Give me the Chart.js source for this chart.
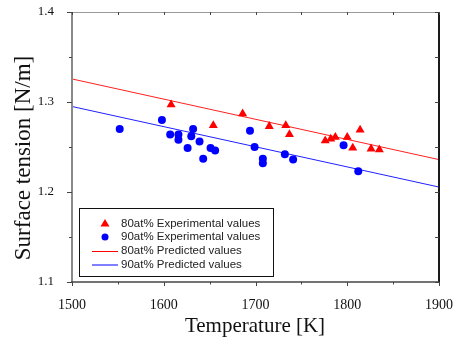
<!DOCTYPE html>
<html>
<head>
<meta charset="utf-8">
<script src="https://cdn.jsdelivr.net/npm/chart.js@4"></script>
<style>
html,body{margin:0;padding:0;background:#fff;}
#wrap{width:455px;height:339px;position:relative;}
</style>
</head>
<body>
<div id="wrap"><canvas id="c" width="455" height="339"></canvas></div>
<script>
// ---- data ----
const temps80 = [1608, 1654, 1686, 1715, 1733, 1737, 1776, 1782, 1787, 1800, 1806, 1814, 1826, 1835];
const tension80 = [1.297, 1.274, 1.287, 1.273, 1.274, 1.264, 1.257, 1.259, 1.261, 1.261, 1.249, 1.269, 1.248, 1.247];
const temps90 = [1552, 1598, 1607, 1616, 1616, 1632, 1630, 1626, 1639, 1643, 1651, 1656, 1694, 1699, 1708, 1708, 1732, 1741, 1796, 1812];
const tension90 = [1.270, 1.280, 1.264, 1.264, 1.258, 1.270, 1.262, 1.249, 1.256, 1.237, 1.249, 1.246, 1.268, 1.250, 1.237, 1.232, 1.242, 1.236, 1.252, 1.223];
const predTemps = [1500, 1900];
const pred80 = [1.3256, 1.236];
const pred90 = [1.295, 1.2055];
const xTicks = [1500, 1600, 1700, 1800, 1900];
const xMinor = [1550, 1650, 1750, 1850];
const yTicks = [1.1, 1.2, 1.3, 1.4];
const yMinor = [1.15, 1.25, 1.35];
const legendLabels = ['80at% Experimental values', '90at% Experimental values', '80at% Predicted values', '90at% Predicted values'];
const xTitle = 'Temperature [K]';
const yTitle = 'Surface tension [N/m]';

const pts = (xs, ys) => xs.map((x, i) => ({x: x, y: ys[i]}));

const framePlugin = {
  id: 'frame',
  afterDraw(chart) {
    const ctx = chart.ctx;
    const xs = chart.scales.x, ys = chart.scales.y;
    const L = xs.left, R = xs.right, T = ys.top, B = ys.bottom;
    ctx.save();
    // borders
    ctx.lineCap = 'butt';
    ctx.strokeStyle = '#9a9a9a'; ctx.lineWidth = 1;
    ctx.beginPath(); ctx.moveTo(L, T + 0.5); ctx.lineTo(R, T + 0.5); ctx.stroke();
    ctx.strokeStyle = '#1a1a1a'; ctx.lineWidth = 2;
    ctx.beginPath(); ctx.moveTo(R, T); ctx.lineTo(R, B); ctx.stroke();
    ctx.strokeStyle = '#8a8a8a'; ctx.lineWidth = 2;
    ctx.beginPath(); ctx.moveTo(L, T); ctx.lineTo(L, B + 1); ctx.stroke();
    ctx.strokeStyle = '#444'; ctx.lineWidth = 1.5;
    ctx.beginPath(); ctx.moveTo(L - 1, B); ctx.lineTo(R, B); ctx.stroke();
    // ticks
    ctx.lineWidth = 1;
    ctx.strokeStyle = '#444';
    const tick = (x1, y1, x2, y2) => { ctx.beginPath(); ctx.moveTo(x1, y1); ctx.lineTo(x2, y2); ctx.stroke(); };
    xTicks.forEach(v => { const p = Math.round(xs.getPixelForValue(v)) + 0.5; tick(p, B, p, B + 4); tick(p, T, p, T + 3); });
    xMinor.forEach(v => { const p = Math.round(xs.getPixelForValue(v)) + 0.5; tick(p, B, p, B + 2.5); tick(p, T, p, T + 3); });
    yTicks.forEach(v => { const p = Math.round(ys.getPixelForValue(v)) + 0.5; tick(L - 5, p, L, p); tick(R - 4, p, R, p); });
    yMinor.forEach(v => { const p = Math.round(ys.getPixelForValue(v)) + 0.5; tick(L - 3, p, L, p); tick(R - 4, p, R, p); });
    // axis titles
    ctx.fillStyle = '#111';
    ctx.font = '21px "Liberation Serif", "Times New Roman", serif';
    ctx.textAlign = 'center'; ctx.textBaseline = 'middle';
    ctx.fillText(xTitle, 255, 326);
    ctx.save();
    ctx.translate(24, 158);
    ctx.rotate(-Math.PI / 2);
    ctx.font = '23px "Liberation Serif", "Times New Roman", serif';
    ctx.fillText(yTitle, 0, 0);
    ctx.restore();
    // legend
    const bx = 79.5, by = 208.5, bw = 194, bh = 68;
    ctx.fillStyle = '#fff';
    ctx.fillRect(bx, by, bw, bh);
    ctx.strokeStyle = '#111'; ctx.lineWidth = 1;
    ctx.strokeRect(bx, by, bw, bh);
    const rows = [223.5, 237, 251, 264.5];
    ctx.font = '11.5px "Liberation Sans", Arial, sans-serif';
    ctx.textAlign = 'left'; ctx.textBaseline = 'middle';
    ctx.fillStyle = '#222';
    legendLabels.forEach((t, i) => ctx.fillText(t, 121, rows[i]));
    // markers
    ctx.fillStyle = '#ff0000';
    ctx.beginPath(); ctx.moveTo(105, rows[0] - 4.5); ctx.lineTo(109.5, rows[0] + 3); ctx.lineTo(100.5, rows[0] + 3); ctx.closePath(); ctx.fill();
    ctx.fillStyle = '#0000ff';
    ctx.beginPath(); ctx.arc(105, rows[1], 3.5, 0, Math.PI * 2); ctx.fill();
    ctx.lineWidth = 1;
    ctx.strokeStyle = '#ff0000';
    ctx.beginPath(); ctx.moveTo(92, rows[2] + 0.5); ctx.lineTo(118, rows[2] + 0.5); ctx.stroke();
    ctx.strokeStyle = '#0000ff';
    ctx.beginPath(); ctx.moveTo(92, rows[3] + 0.5); ctx.lineTo(118, rows[3] + 0.5); ctx.stroke();
    ctx.restore();
  }
};

new Chart(document.getElementById('c'), {
  type: 'scatter',
  data: {
    datasets: [
      { label: legendLabels[2], type: 'line', data: pts(predTemps, pred80), borderColor: '#ff2020', borderWidth: 1, pointRadius: 0, fill: false, order: 3 },
      { label: legendLabels[3], type: 'line', data: pts(predTemps, pred90), borderColor: '#2020ff', borderWidth: 1, pointRadius: 0, fill: false, order: 4 },
      { label: legendLabels[0], data: pts(temps80, tension80), pointStyle: 'triangle', pointRadius: 5.2, backgroundColor: '#ff0000', borderColor: '#ff0000', borderWidth: 0, order: 1 },
      { label: legendLabels[1], data: pts(temps90, tension90), pointStyle: 'circle', pointRadius: 4, backgroundColor: '#0000ff', borderColor: '#0000ff', borderWidth: 0, order: 2 }
    ]
  },
  options: {
    responsive: false,
    animation: false,
    devicePixelRatio: 1,
    layout: { padding: { top: 12, right: 16, left: 0, bottom: 0 } },
    plugins: { legend: { display: false }, tooltip: { enabled: false } },
    scales: {
      x: {
        type: 'linear', min: 1500, max: 1900,
        afterBuildTicks: s => { s.ticks = xTicks.map(v => ({value: v})); },
        afterFit: s => { s.height = 57; s.paddingLeft = 0; s.paddingRight = 0; },
        grid: { display: false }, border: { display: false },
        ticks: { padding: 7, color: '#111', font: { family: '"Liberation Serif", "Times New Roman", serif', size: 14 }, maxRotation: 0, callback: v => String(v) }
      },
      y: {
        type: 'linear', min: 1.1, max: 1.4,
        afterBuildTicks: s => { s.ticks = yTicks.map(v => ({value: v})); },
        afterFit: s => { s.width = 72; s.paddingTop = 0; s.paddingBottom = 0; },
        grid: { display: false }, border: { display: false },
        ticks: { padding: 10, color: '#111', font: { family: '"Liberation Serif", "Times New Roman", serif', size: 13 }, callback: v => v.toFixed(1) }
      }
    }
  },
  plugins: [framePlugin]
});
</script>
</body>
</html>
